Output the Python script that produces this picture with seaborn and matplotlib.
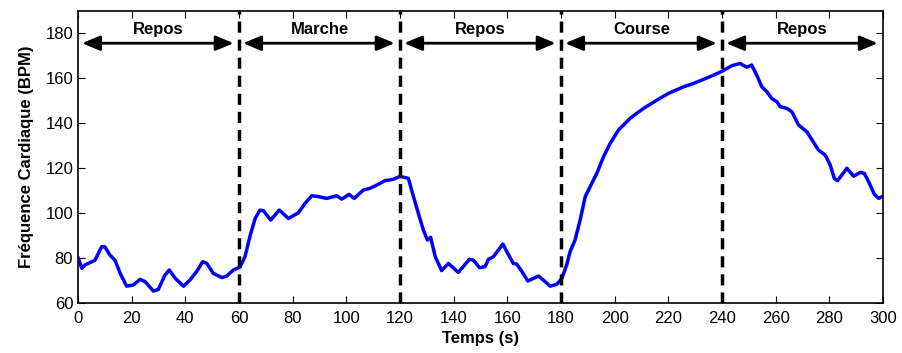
import matplotlib
matplotlib.use("Agg")
import numpy as np
import pandas as pd
import seaborn as sns
import matplotlib.pyplot as plt

# heart rate
temps = [0, 1.4, 2.6, 6.3, 8.8, 10, 11.9, 13.8, 15.7, 18.1, 20.6, 23.1, 25, 28.1, 29.9,
         32.4, 34, 36.2, 39.3, 41.7, 44.2, 46.5, 48, 50.4, 53.6, 55.4, 57.9, 60.4, 62.2,
         64.1, 66, 67.8, 69.1, 71.8, 75, 78.4, 82.1, 84.6, 87.1, 89.6, 92.7, 96.4, 98.3,
         101, 102.9, 106.3, 108.8, 111.3, 114.4, 117.5, 120, 123.1, 125, 126.8, 128.7,
         130.2, 131.4, 133.1, 135.5, 138, 141.7, 145.8, 147.3, 149.6, 151.7, 152.9, 154.8,
         158.3, 159.8, 162.2, 163.5, 165.4, 167.6, 171.6, 173.4, 175.9, 178.4, 180.3, 182.1,
         183.4, 185.2, 187.1, 189, 190.8, 193.3, 195.8, 198.3, 201.4, 205.7, 210.7, 215.7,
         220, 225.6, 229.3, 233, 236.8, 239.9, 243.6, 246.7, 249.2, 251, 252.9, 254.8,
         256.7, 258.5, 260.4, 261.6, 264.1, 266, 268.5, 271.6, 273.4, 275.9, 278.4, 280.3,
         281.8, 283, 284.6, 286.5, 289, 291.5, 293, 294.6, 296.7, 298.3, 300]
bpm = [80.3, 75.4, 76.9, 79, 85, 85, 81.3, 79, 73.2, 67.5, 68, 70.5, 69.5, 65.3, 66,
       72.4, 74.7, 71, 67.5, 70.2, 74, 78.4, 77.6, 73.2, 71.3, 72, 74.7, 76, 80.6,
       89.8, 97.6, 101.3, 101, 96.9, 101.3, 97.6, 100.1, 104.3, 107.7, 107.3, 106.5, 107.7, 106.2,
       108.3, 106.5, 110.2, 111, 112.4, 114.4, 115, 116.3, 115.4, 107.3, 99.9, 92.4,
       88, 89.2, 80.6, 74.4, 77.6, 73.6, 79.4, 79.1, 75.7, 76.2, 79.4, 80.6,
       86.2, 82.8, 77.6, 77.3, 74, 69.8, 72, 70.2, 67.5, 68.3, 71, 77,
       83, 88, 96.9, 107.3, 111.7, 117.6, 125, 131, 136.9, 142.1, 146.5, 150.2,
       153.2, 156.1, 157.6, 159.4, 161.3, 163, 165.5, 166.5, 164.8, 165.8, 161.3, 156.1,
       153.9, 150.9, 149.5, 147.3, 146.5, 145, 139.1, 136.1, 132.7, 128, 125.8, 121.3,
       115.4, 114.4, 116.9, 119.9, 116.4, 118.1, 117.6, 113.9, 108.4, 106.5, 107.5]

phases = ["Repos", "Marche", "Repos", "Course", "Repos"]
limites = [0, 60, 120, 180, 240, 300]

df = pd.DataFrame({"temps": temps, "bpm": bpm})

sns.set_style("ticks")
plt.rcParams["font.family"] = ["Liberation Sans", "DejaVu Sans"]

fig, ax = plt.subplots(figsize=(9.03, 3.53), dpi=100)
fig.subplots_adjust(left=0.0864, right=0.978, bottom=0.1416, top=0.970)

sns.lineplot(data=df, x="temps", y="bpm", ax=ax, color="#0000ff", linewidth=2.5)

# phase separators
for x in limites[1:-1]:
    ax.axvline(x, color="black", linestyle=(0, (3.2, 2)), linewidth=2.5, zorder=3)

# arrows and phase names
for i, nom in enumerate(phases):
    a, b = limites[i], limites[i + 1]
    ax.annotate("", xy=(a + 1.5, 175.5), xytext=(b - 2, 175.5),
                arrowprops=dict(arrowstyle="<|-|>,head_length=0.6,head_width=0.25",
                                color="black", lw=2, mutation_scale=18,
                                shrinkA=0, shrinkB=0))
    ax.text((a + b) / 2, 181.8, nom, ha="center", va="center",
            fontsize=12, fontweight="bold", color="black")

ax.set_xlim(0, 300)
ax.set_ylim(60, 190)
ax.set_xticks(np.arange(0, 301, 20))
ax.set_yticks(np.arange(60, 181, 20))
ax.tick_params(direction="in", length=5, labelsize=12, top=True, right=True,
               color="black", labelcolor="black")
ax.tick_params(axis="x", pad=6)
for s in ax.spines.values():
    s.set_visible(True)
    s.set_linewidth(1.2)
    s.set_color("black")
ax.set_xlabel("Temps (s)", fontsize=12, fontweight="bold", labelpad=3, color="black")
ax.set_ylabel("Fréquence Cardiaque (BPM)", fontsize=12, fontweight="bold",
              labelpad=8, color="black")

plt.savefig("out.png", dpi=100)
